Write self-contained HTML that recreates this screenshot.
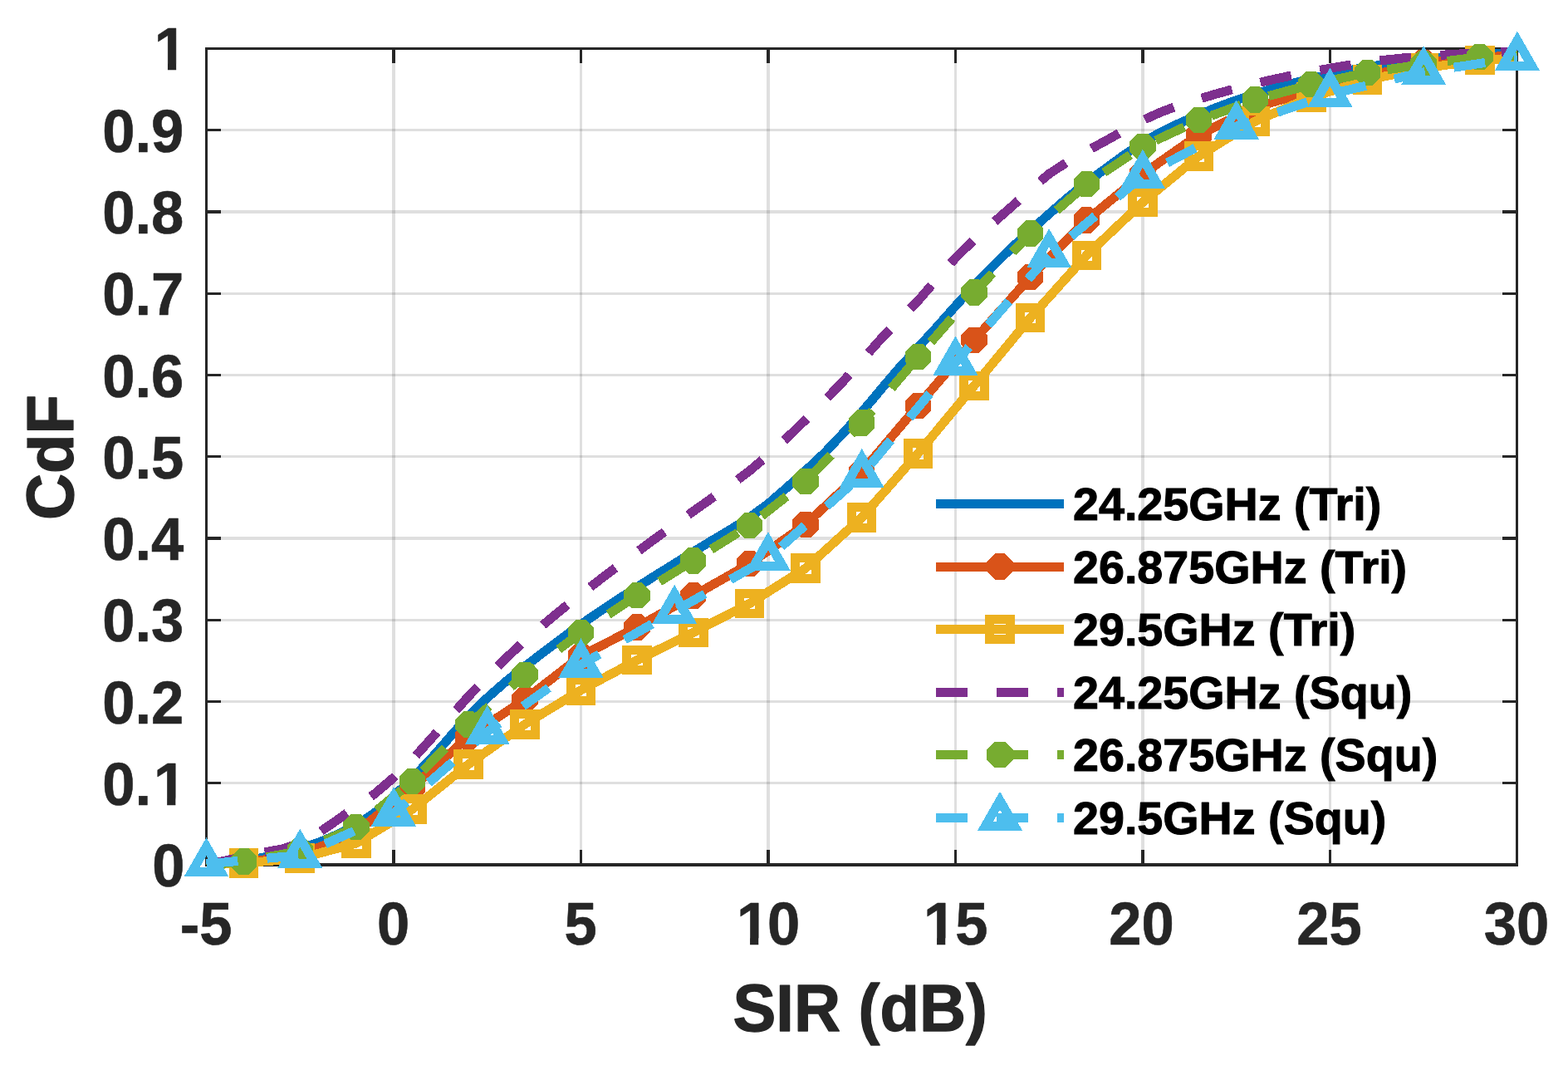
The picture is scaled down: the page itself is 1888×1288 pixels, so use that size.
<!DOCTYPE html>
<html lang="en"><head><meta charset="utf-8"><title>CdF vs SIR (dB)</title>
<style>html,body{margin:0;padding:0;background:#fff}body{width:1888px;height:1288px;overflow:hidden}svg text{white-space:pre}</style>
</head><body>
<svg width="1888" height="1288" viewBox="0 0 1888 1288" style="display:block">
<rect width="1888" height="1288" fill="#fff"/>
<g fill="#262626" fill-opacity="0.15" shape-rendering="crispEdges"><rect x="472" y="60" width="4" height="979"/><rect x="698" y="60" width="3" height="979"/><rect x="923" y="60" width="4" height="979"/><rect x="1149" y="60" width="3" height="979"/><rect x="1374" y="60" width="4" height="979"/><rect x="1600" y="60" width="3" height="979"/><rect x="250" y="941" width="1575" height="3"/><rect x="250" y="843" width="1575" height="3"/><rect x="250" y="745" width="1575" height="3"/><rect x="250" y="646" width="1575" height="4"/><rect x="250" y="548" width="1575" height="3"/><rect x="250" y="450" width="1575" height="3"/><rect x="250" y="352" width="1575" height="3"/><rect x="250" y="253" width="1575" height="4"/><rect x="250" y="155" width="1575" height="3"/></g>
<g fill="#262626" shape-rendering="crispEdges"><rect x="247" y="57" width="1581" height="3"/><rect x="247" y="1039" width="1581" height="4"/><rect x="247" y="57" width="3" height="986"/><rect x="1825" y="57" width="3" height="986"/><rect x="472" y="60" width="4" height="16"/><rect x="472" y="1023" width="4" height="16"/><rect x="698" y="60" width="3" height="16"/><rect x="698" y="1023" width="3" height="16"/><rect x="923" y="60" width="4" height="16"/><rect x="923" y="1023" width="4" height="16"/><rect x="1149" y="60" width="3" height="16"/><rect x="1149" y="1023" width="3" height="16"/><rect x="1374" y="60" width="4" height="16"/><rect x="1374" y="1023" width="4" height="16"/><rect x="1600" y="60" width="3" height="16"/><rect x="1600" y="1023" width="3" height="16"/><rect x="250" y="941" width="16" height="3"/><rect x="1809" y="941" width="16" height="3"/><rect x="250" y="843" width="16" height="3"/><rect x="1809" y="843" width="16" height="3"/><rect x="250" y="745" width="16" height="3"/><rect x="1809" y="745" width="16" height="3"/><rect x="250" y="646" width="16" height="4"/><rect x="1809" y="646" width="16" height="4"/><rect x="250" y="548" width="16" height="3"/><rect x="1809" y="548" width="16" height="3"/><rect x="250" y="450" width="16" height="3"/><rect x="1809" y="450" width="16" height="3"/><rect x="250" y="352" width="16" height="3"/><rect x="1809" y="352" width="16" height="3"/><rect x="250" y="253" width="16" height="4"/><rect x="1809" y="253" width="16" height="4"/><rect x="250" y="155" width="16" height="3"/><rect x="1809" y="155" width="16" height="3"/></g>
<g font-family="'Liberation Sans', Arial, Helvetica, sans-serif" font-weight="bold" fill="#262626" font-size="72" stroke="#262626" stroke-width="0.6" stroke-linejoin="round">
<text transform="translate(248.10,1137.00) scale(0.9800,1)" text-anchor="middle">-5</text>
<text transform="translate(473.69,1137.00) scale(0.9800,1)" text-anchor="middle">0</text>
<text transform="translate(699.07,1137.00) scale(0.9800,1)" text-anchor="middle">5</text>
<clipPath id="k1"><path d="M882.92,1067.00H929.92V1128.90H913.25V1140.00H903.06V1128.90H882.92ZM925.30,1067.00H1000.00V1157.00H925.30Z"/></clipPath><g clip-path="url(#k1)"><text transform="translate(0,1137.00) scale(0.980,1)"><tspan x="905.02">1</tspan><tspan x="942.96">0</tspan></text></g>
<clipPath id="k2"><path d="M1107.92,1067.00H1154.92V1128.90H1138.25V1140.00H1128.06V1128.90H1107.92ZM1150.80,1067.00H1230.00V1157.00H1150.80Z"/></clipPath><g clip-path="url(#k2)"><text transform="translate(0,1137.00) scale(0.980,1)"><tspan x="1134.61">1</tspan><tspan x="1173.83">5</tspan></text></g>
<text transform="translate(1374.43,1137.00) scale(0.9800,1)" text-anchor="middle">20</text>
<text transform="translate(1600.51,1137.00) scale(0.9800,1)" text-anchor="middle">25</text>
<text transform="translate(1826.00,1137.00) scale(0.9800,1)" text-anchor="middle">30</text>
<text transform="translate(222.60,1067.00) scale(0.9800,1)" text-anchor="end">0</text>
<clipPath id="k3"><path d="M181.02,898.75H228.02V960.65H211.35V971.75H201.16V960.65H181.02ZM100.00,898.75H186.00V988.75H100.00Z"/></clipPath><g clip-path="url(#k3)"><text transform="translate(0,968.75) scale(0.980,1)"><tspan x="125.73">0.</tspan><tspan x="188.80">1</tspan></text></g>
<text transform="translate(221.30,870.50) scale(0.9800,1)" text-anchor="end">0.2</text>
<text transform="translate(221.30,772.25) scale(0.9800,1)" text-anchor="end">0.3</text>
<text transform="translate(221.30,674.00) scale(0.9800,1)" text-anchor="end">0.4</text>
<text transform="translate(221.30,575.75) scale(0.9800,1)" text-anchor="end">0.5</text>
<text transform="translate(221.30,477.50) scale(0.9800,1)" text-anchor="end">0.6</text>
<text transform="translate(221.30,379.25) scale(0.9800,1)" text-anchor="end">0.7</text>
<text transform="translate(221.30,281.00) scale(0.9800,1)" text-anchor="end">0.8</text>
<text transform="translate(221.30,182.75) scale(0.9800,1)" text-anchor="end">0.9</text>
<clipPath id="k4"><path d="M181.82,14.10H228.82V76.00H212.15V87.10H201.96V76.00H181.82Z"/></clipPath><g clip-path="url(#k4)"><text transform="translate(0,84.10) scale(0.980,1)"><tspan x="189.61">1</tspan></text></g>
<clipPath id="kx"><path d="M860,1160H1230V1288H860Z M1086,1160V1185.4H1108V1160Z" clip-rule="evenodd"/></clipPath>
<clipPath id="ky"><path d="M0,440H110V660H0Z M0,522H32.5V544H0Z" clip-rule="evenodd"/></clipPath>
<g clip-path="url(#kx)"><text transform="translate(1035.70,1240.50) scale(0.9810,1)" text-anchor="middle" font-size="79.2" stroke-width="1.3">SIR (dB)</text></g>
<g clip-path="url(#ky)"><text transform="translate(88.00,550.50) rotate(-90) scale(0.9810,1)" text-anchor="middle" font-size="79.2" stroke-width="1.3">CdF</text></g>
</g>
<g shape-rendering="crispEdges">
<path d="M248.50 1041.00 L271.05 1038.94 L293.60 1036.09 L316.15 1032.34 L338.69 1027.44 L361.24 1021.56 L383.79 1014.07 L406.34 1004.60 L428.89 993.35 L451.44 978.18 L473.99 958.45 L496.53 936.78 L519.08 913.22 L541.63 887.25 L564.18 861.79 L586.73 840.00 L609.28 820.20 L631.83 802.32 L654.37 785.15 L676.92 768.07 L699.47 751.65 L722.02 736.13 L744.57 721.27 L767.12 706.73 L789.67 692.48 L812.21 678.47 L834.76 664.39 L857.31 650.60 L879.86 637.27 L902.41 623.06 L924.96 606.41 L947.51 586.88 L970.05 566.45 L992.60 545.41 L1015.15 521.59 L1037.70 496.26 L1060.25 469.27 L1082.80 442.85 L1105.35 418.39 L1127.89 393.83 L1150.44 368.39 L1172.99 343.88 L1195.54 320.57 L1218.09 298.22 L1240.64 277.70 L1263.19 257.51 L1285.73 237.83 L1308.28 219.79 L1330.83 203.16 L1353.38 186.66 L1375.93 171.39 L1398.48 158.75 L1421.03 147.94 L1443.57 138.09 L1466.12 128.94 L1488.67 120.60 L1511.22 113.13 L1533.77 106.46 L1556.32 100.40 L1578.87 94.85 L1601.41 89.67 L1623.96 84.89 L1646.51 80.66 L1669.06 77.21 L1691.61 74.31 L1714.16 71.70 L1736.71 68.90 L1759.25 66.33 L1781.80 64.94 L1804.35 64.43 L1826.90 64.39" fill="none" stroke="#0072BD" stroke-width="11" stroke-linejoin="round"/>
<path d="M248.50 1041.00 L271.05 1039.53 L293.60 1038.05 L316.15 1035.11 L338.69 1032.16 L361.24 1029.21 L383.79 1020.04 L406.34 1010.87 L428.89 1001.70 L451.44 983.69 L473.99 965.67 L496.53 947.66 L519.08 927.36 L541.63 907.05 L564.18 886.75 L586.73 871.88 L609.28 857.01 L631.83 842.14 L654.37 824.75 L676.92 807.36 L699.47 789.97 L722.02 778.25 L744.57 766.52 L767.12 754.80 L789.67 742.25 L812.21 729.71 L834.76 717.17 L857.31 704.36 L879.86 691.56 L902.41 678.75 L924.96 662.97 L947.51 647.18 L970.05 631.40 L992.60 610.24 L1015.15 589.08 L1037.70 567.93 L1060.25 541.43 L1082.80 514.94 L1105.35 488.44 L1127.89 462.05 L1150.44 435.65 L1172.99 409.25 L1195.54 383.97 L1218.09 358.69 L1240.64 333.40 L1263.19 310.61 L1285.73 287.82 L1308.28 265.02 L1330.83 246.52 L1353.38 228.01 L1375.93 209.51 L1398.48 193.72 L1421.03 177.94 L1443.57 162.15 L1466.12 151.18 L1488.67 140.21 L1511.22 129.24 L1533.77 122.69 L1556.32 116.14 L1578.87 109.59 L1601.41 103.70 L1623.96 97.80 L1646.51 91.91 L1669.06 86.34 L1691.61 80.77 L1714.16 75.20 L1736.71 73.14 L1759.25 71.08 L1781.80 69.01 L1804.35 67.93 L1826.90 66.85" fill="none" stroke="#D95319" stroke-width="11" stroke-linejoin="round"/>
<polygon points="309.30,1032.15 309.30,1043.95 299.50,1053.75 287.70,1053.75 277.90,1043.95 277.90,1032.15 287.70,1022.35 299.50,1022.35" fill="#D95319"/><polygon points="376.94,1023.31 376.94,1035.11 367.14,1044.91 355.34,1044.91 345.54,1035.11 345.54,1023.31 355.34,1013.51 367.14,1013.51" fill="#D95319"/><polygon points="444.59,995.80 444.59,1007.60 434.79,1017.40 422.99,1017.40 413.19,1007.60 413.19,995.80 422.99,986.00 434.79,986.00" fill="#D95319"/><polygon points="512.23,941.76 512.23,953.56 502.43,963.36 490.63,963.36 480.83,953.56 480.83,941.76 490.63,931.96 502.43,931.96" fill="#D95319"/><polygon points="579.88,880.85 579.88,892.65 570.08,902.45 558.28,902.45 548.48,892.65 548.48,880.85 558.28,871.05 570.08,871.05" fill="#D95319"/><polygon points="647.53,836.24 647.53,848.04 637.73,857.84 625.93,857.84 616.13,848.04 616.13,836.24 625.93,826.44 637.73,826.44" fill="#D95319"/><polygon points="715.17,784.07 715.17,795.87 705.37,805.67 693.57,805.67 683.77,795.87 683.77,784.07 693.57,774.27 705.37,774.27" fill="#D95319"/><polygon points="782.82,748.90 782.82,760.70 773.02,770.50 761.22,770.50 751.42,760.70 751.42,748.90 761.22,739.10 773.02,739.10" fill="#D95319"/><polygon points="850.46,711.27 850.46,723.07 840.66,732.87 828.86,732.87 819.06,723.07 819.06,711.27 828.86,701.47 840.66,701.47" fill="#D95319"/><polygon points="918.11,672.85 918.11,684.65 908.31,694.45 896.51,694.45 886.71,684.65 886.71,672.85 896.51,663.05 908.31,663.05" fill="#D95319"/><polygon points="985.75,625.50 985.75,637.30 975.95,647.10 964.15,647.10 954.35,637.30 954.35,625.50 964.15,615.70 975.95,615.70" fill="#D95319"/><polygon points="1053.40,562.03 1053.40,573.83 1043.60,583.63 1031.80,583.63 1022.00,573.83 1022.00,562.03 1031.80,552.23 1043.60,552.23" fill="#D95319"/><polygon points="1121.05,482.54 1121.05,494.34 1111.25,504.14 1099.45,504.14 1089.65,494.34 1089.65,482.54 1099.45,472.74 1111.25,472.74" fill="#D95319"/><polygon points="1188.69,403.35 1188.69,415.15 1178.89,424.95 1167.09,424.95 1157.29,415.15 1157.29,403.35 1167.09,393.55 1178.89,393.55" fill="#D95319"/><polygon points="1256.34,327.50 1256.34,339.30 1246.54,349.10 1234.74,349.10 1224.94,339.30 1224.94,327.50 1234.74,317.70 1246.54,317.70" fill="#D95319"/><polygon points="1323.98,259.12 1323.98,270.92 1314.18,280.72 1302.38,280.72 1292.58,270.92 1292.58,259.12 1302.38,249.32 1314.18,249.32" fill="#D95319"/><polygon points="1391.63,203.61 1391.63,215.41 1381.83,225.21 1370.03,225.21 1360.23,215.41 1360.23,203.61 1370.03,193.81 1381.83,193.81" fill="#D95319"/><polygon points="1459.27,156.25 1459.27,168.05 1449.47,177.85 1437.67,177.85 1427.87,168.05 1427.87,156.25 1437.67,146.45 1449.47,146.45" fill="#D95319"/><polygon points="1526.92,123.34 1526.92,135.14 1517.12,144.94 1505.32,144.94 1495.52,135.14 1495.52,123.34 1505.32,113.54 1517.12,113.54" fill="#D95319"/><polygon points="1594.57,103.69 1594.57,115.49 1584.77,125.29 1572.97,125.29 1563.17,115.49 1563.17,103.69 1572.97,93.89 1584.77,93.89" fill="#D95319"/><polygon points="1662.21,86.01 1662.21,97.81 1652.41,107.61 1640.61,107.61 1630.81,97.81 1630.81,86.01 1640.61,76.21 1652.41,76.21" fill="#D95319"/><polygon points="1729.86,69.30 1729.86,81.10 1720.06,90.90 1708.26,90.90 1698.46,81.10 1698.46,69.30 1708.26,59.50 1720.06,59.50" fill="#D95319"/><polygon points="1797.50,63.11 1797.50,74.91 1787.70,84.71 1775.90,84.71 1766.10,74.91 1766.10,63.11 1775.90,53.31 1787.70,53.31" fill="#D95319"/>
<path d="M248.50 1041.00 L271.05 1040.02 L293.60 1039.04 L316.15 1037.07 L338.69 1035.11 L361.24 1033.14 L383.79 1027.15 L406.34 1021.15 L428.89 1015.16 L451.44 1001.50 L473.99 987.85 L496.53 974.19 L519.08 956.08 L541.63 937.97 L564.18 919.86 L586.73 903.88 L609.28 887.89 L631.83 871.91 L654.37 858.19 L676.92 844.47 L699.47 830.75 L722.02 818.73 L744.57 806.71 L767.12 794.69 L789.67 783.55 L812.21 772.42 L834.76 761.28 L857.31 749.72 L879.86 738.16 L902.41 726.60 L924.96 712.39 L947.51 698.17 L970.05 683.96 L992.60 663.59 L1015.15 643.22 L1037.70 622.85 L1060.25 597.17 L1082.80 571.50 L1105.35 545.82 L1127.89 518.64 L1150.44 491.46 L1172.99 464.27 L1195.54 437.06 L1218.09 409.84 L1240.64 382.63 L1263.19 357.54 L1285.73 332.45 L1308.28 307.37 L1330.83 286.05 L1353.38 264.73 L1375.93 243.41 L1398.48 224.87 L1421.03 206.33 L1443.57 187.80 L1466.12 173.85 L1488.67 159.89 L1511.22 145.94 L1533.77 136.28 L1556.32 126.62 L1578.87 116.96 L1601.41 110.05 L1623.96 103.14 L1646.51 96.23 L1669.06 91.51 L1691.61 86.80 L1714.16 82.08 L1736.71 78.90 L1759.25 75.73 L1781.80 72.55 L1804.35 71.17 L1826.90 69.80" fill="none" stroke="#EDB120" stroke-width="11" stroke-linejoin="round"/>
<rect x="281.35" y="1026.79" width="24.5" height="24.5" fill="none" stroke="#EDB120" stroke-width="11"/><rect x="348.99" y="1020.89" width="24.5" height="24.5" fill="none" stroke="#EDB120" stroke-width="11"/><rect x="416.64" y="1002.91" width="24.5" height="24.5" fill="none" stroke="#EDB120" stroke-width="11"/><rect x="484.28" y="961.94" width="24.5" height="24.5" fill="none" stroke="#EDB120" stroke-width="11"/><rect x="551.93" y="907.61" width="24.5" height="24.5" fill="none" stroke="#EDB120" stroke-width="11"/><rect x="619.58" y="859.66" width="24.5" height="24.5" fill="none" stroke="#EDB120" stroke-width="11"/><rect x="687.22" y="818.50" width="24.5" height="24.5" fill="none" stroke="#EDB120" stroke-width="11"/><rect x="754.87" y="782.44" width="24.5" height="24.5" fill="none" stroke="#EDB120" stroke-width="11"/><rect x="822.51" y="749.03" width="24.5" height="24.5" fill="none" stroke="#EDB120" stroke-width="11"/><rect x="890.16" y="714.35" width="24.5" height="24.5" fill="none" stroke="#EDB120" stroke-width="11"/><rect x="957.80" y="671.71" width="24.5" height="24.5" fill="none" stroke="#EDB120" stroke-width="11"/><rect x="1025.45" y="610.60" width="24.5" height="24.5" fill="none" stroke="#EDB120" stroke-width="11"/><rect x="1093.10" y="533.57" width="24.5" height="24.5" fill="none" stroke="#EDB120" stroke-width="11"/><rect x="1160.74" y="452.02" width="24.5" height="24.5" fill="none" stroke="#EDB120" stroke-width="11"/><rect x="1228.39" y="370.38" width="24.5" height="24.5" fill="none" stroke="#EDB120" stroke-width="11"/><rect x="1296.03" y="295.12" width="24.5" height="24.5" fill="none" stroke="#EDB120" stroke-width="11"/><rect x="1363.68" y="231.16" width="24.5" height="24.5" fill="none" stroke="#EDB120" stroke-width="11"/><rect x="1431.32" y="175.55" width="24.5" height="24.5" fill="none" stroke="#EDB120" stroke-width="11"/><rect x="1498.97" y="133.69" width="24.5" height="24.5" fill="none" stroke="#EDB120" stroke-width="11"/><rect x="1566.62" y="104.71" width="24.5" height="24.5" fill="none" stroke="#EDB120" stroke-width="11"/><rect x="1634.26" y="83.98" width="24.5" height="24.5" fill="none" stroke="#EDB120" stroke-width="11"/><rect x="1701.91" y="69.83" width="24.5" height="24.5" fill="none" stroke="#EDB120" stroke-width="11"/><rect x="1769.55" y="60.30" width="24.5" height="24.5" fill="none" stroke="#EDB120" stroke-width="11"/>
<path d="M248.50 1040.51 L271.05 1036.09 L293.60 1031.13 L316.15 1026.20 L338.69 1022.34 L361.24 1014.89 L383.79 1002.45 L406.34 986.89 L428.89 970.98 L451.44 955.30 L473.99 936.06 L496.53 914.30 L519.08 889.28 L541.63 863.31 L564.18 838.20 L586.73 814.53 L609.28 792.15 L631.83 771.36 L654.37 751.82 L676.92 733.20 L699.47 715.32 L722.02 698.00 L744.57 681.08 L767.12 664.40 L789.67 647.80 L812.21 631.54 L834.76 615.48 L857.31 599.50 L879.86 583.82 L902.41 566.85 L924.96 547.75 L947.51 527.13 L970.05 505.29 L992.60 482.54 L1015.15 459.17 L1037.70 433.78 L1060.25 408.51 L1082.80 385.48 L1105.35 362.11 L1127.89 336.18 L1150.44 310.55 L1172.99 288.46 L1195.54 268.53 L1218.09 248.77 L1240.64 228.13 L1263.19 209.31 L1285.73 194.53 L1308.28 181.93 L1330.83 169.81 L1353.38 157.11 L1375.93 144.88 L1398.48 134.65 L1421.03 126.38 L1443.57 119.17 L1466.12 112.57 L1488.67 106.38 L1511.22 100.67 L1533.77 95.45 L1556.32 90.66 L1578.87 86.25 L1601.41 82.22 L1623.96 78.52 L1646.51 75.03 L1669.06 72.02 L1691.61 69.70 L1714.16 67.80 L1736.71 66.20 L1759.25 64.88 L1781.80 63.71 L1804.35 62.71 L1826.90 61.94" fill="none" stroke="#7E2F8E" stroke-width="11" stroke-linejoin="round" stroke-dasharray="38 35.2" stroke-dashoffset="1.5"/>
<path d="M248.50 1041.00 L271.05 1039.04 L293.60 1037.07 L316.15 1032.81 L338.69 1028.56 L361.24 1024.30 L383.79 1014.70 L406.34 1005.11 L428.89 995.51 L451.44 977.17 L473.99 958.83 L496.53 940.49 L519.08 917.70 L541.63 894.90 L564.18 872.11 L586.73 852.16 L609.28 832.22 L631.83 812.27 L654.37 795.34 L676.92 778.41 L699.47 761.48 L722.02 746.58 L744.57 731.68 L767.12 716.77 L789.67 702.79 L812.21 688.81 L834.76 674.82 L857.31 660.74 L879.86 646.66 L902.41 632.57 L924.96 614.89 L947.51 597.20 L970.05 579.52 L992.60 556.07 L1015.15 532.62 L1037.70 509.17 L1060.25 482.68 L1082.80 456.18 L1105.35 429.69 L1127.89 403.85 L1150.44 378.01 L1172.99 352.17 L1195.54 328.46 L1218.09 304.75 L1240.64 281.04 L1263.19 261.29 L1285.73 241.54 L1308.28 221.79 L1330.83 206.66 L1353.38 191.53 L1375.93 176.40 L1398.48 165.85 L1421.03 155.31 L1443.57 144.76 L1466.12 136.51 L1488.67 128.26 L1511.22 120.00 L1533.77 113.91 L1556.32 107.82 L1578.87 101.73 L1601.41 96.98 L1623.96 92.23 L1646.51 87.48 L1669.06 84.05 L1691.61 80.61 L1714.16 77.17 L1736.71 74.29 L1759.25 71.40 L1781.80 68.52 L1804.35 67.69 L1826.90 66.85" fill="none" stroke="#77AC30" stroke-width="11" stroke-linejoin="round" stroke-dasharray="38 35.2"/>
<polygon points="309.30,1031.17 309.30,1042.97 299.50,1052.77 287.70,1052.77 277.90,1042.97 277.90,1031.17 287.70,1021.37 299.50,1021.37" fill="#77AC30"/><polygon points="376.94,1018.40 376.94,1030.20 367.14,1040.00 355.34,1040.00 345.54,1030.20 345.54,1018.40 355.34,1008.60 367.14,1008.60" fill="#77AC30"/><polygon points="444.59,989.61 444.59,1001.41 434.79,1011.21 422.99,1011.21 413.19,1001.41 413.19,989.61 422.99,979.81 434.79,979.81" fill="#77AC30"/><polygon points="512.23,934.59 512.23,946.39 502.43,956.19 490.63,956.19 480.83,946.39 480.83,934.59 490.63,924.79 502.43,924.79" fill="#77AC30"/><polygon points="579.88,866.21 579.88,878.01 570.08,887.81 558.28,887.81 548.48,878.01 548.48,866.21 558.28,856.41 570.08,856.41" fill="#77AC30"/><polygon points="647.53,806.37 647.53,818.17 637.73,827.97 625.93,827.97 616.13,818.17 616.13,806.37 625.93,796.57 637.73,796.57" fill="#77AC30"/><polygon points="715.17,755.58 715.17,767.38 705.37,777.18 693.57,777.18 683.77,767.38 683.77,755.58 693.57,745.78 705.37,745.78" fill="#77AC30"/><polygon points="782.82,710.88 782.82,722.67 773.02,732.48 761.22,732.48 751.42,722.67 751.42,710.88 761.22,701.07 773.02,701.07" fill="#77AC30"/><polygon points="850.46,668.92 850.46,680.72 840.66,690.52 828.86,690.52 819.06,680.72 819.06,668.92 828.86,659.12 840.66,659.12" fill="#77AC30"/><polygon points="918.11,626.67 918.11,638.47 908.31,648.27 896.51,648.27 886.71,638.47 886.71,626.67 896.51,616.87 908.31,616.87" fill="#77AC30"/><polygon points="985.75,573.62 985.75,585.42 975.95,595.22 964.15,595.22 954.35,585.42 954.35,573.62 964.15,563.82 975.95,563.82" fill="#77AC30"/><polygon points="1053.40,503.27 1053.40,515.07 1043.60,524.87 1031.80,524.87 1022.00,515.07 1022.00,503.27 1031.80,493.47 1043.60,493.47" fill="#77AC30"/><polygon points="1121.05,423.79 1121.05,435.59 1111.25,445.39 1099.45,445.39 1089.65,435.59 1089.65,423.79 1099.45,413.99 1111.25,413.99" fill="#77AC30"/><polygon points="1188.69,346.27 1188.69,358.07 1178.89,367.87 1167.09,367.87 1157.29,358.07 1157.29,346.27 1167.09,336.47 1178.89,336.47" fill="#77AC30"/><polygon points="1256.34,275.14 1256.34,286.94 1246.54,296.74 1234.74,296.74 1224.94,286.94 1224.94,275.14 1234.74,265.34 1246.54,265.34" fill="#77AC30"/><polygon points="1323.98,215.89 1323.98,227.69 1314.18,237.49 1302.38,237.49 1292.58,227.69 1292.58,215.89 1302.38,206.09 1314.18,206.09" fill="#77AC30"/><polygon points="1391.63,170.50 1391.63,182.30 1381.83,192.10 1370.03,192.10 1360.23,182.30 1360.23,170.50 1370.03,160.70 1381.83,160.70" fill="#77AC30"/><polygon points="1459.27,138.86 1459.27,150.66 1449.47,160.46 1437.67,160.46 1427.87,150.66 1427.87,138.86 1437.67,129.06 1449.47,129.06" fill="#77AC30"/><polygon points="1526.92,114.10 1526.92,125.90 1517.12,135.70 1505.32,135.70 1495.52,125.90 1495.52,114.10 1505.32,104.30 1517.12,104.30" fill="#77AC30"/><polygon points="1594.57,95.83 1594.57,107.63 1584.77,117.43 1572.97,117.43 1563.17,107.63 1563.17,95.83 1572.97,86.03 1584.77,86.03" fill="#77AC30"/><polygon points="1662.21,81.58 1662.21,93.38 1652.41,103.18 1640.61,103.18 1630.81,93.38 1630.81,81.58 1640.61,71.78 1652.41,71.78" fill="#77AC30"/><polygon points="1729.86,71.27 1729.86,83.07 1720.06,92.87 1708.26,92.87 1698.46,83.07 1698.46,71.27 1708.26,61.47 1720.06,61.47" fill="#77AC30"/><polygon points="1797.50,62.62 1797.50,74.42 1787.70,84.22 1775.90,84.22 1766.10,74.42 1766.10,62.62 1775.90,52.82 1787.70,52.82" fill="#77AC30"/>
<path d="M248.50 1040.02 L271.05 1037.91 L293.60 1035.81 L316.15 1033.71 L338.69 1031.61 L361.24 1029.50 L383.79 1019.42 L406.34 1009.34 L428.89 999.26 L451.44 989.18 L473.99 979.10 L496.53 959.45 L519.08 939.80 L541.63 920.15 L564.18 900.50 L586.73 880.85 L609.28 864.74 L631.83 848.63 L654.37 832.51 L676.92 816.40 L699.47 800.29 L722.02 787.36 L744.57 774.43 L767.12 761.50 L789.67 748.57 L812.21 735.64 L834.76 722.91 L857.31 710.17 L879.86 697.44 L902.41 684.71 L924.96 671.97 L947.51 651.95 L970.05 631.93 L992.60 611.90 L1015.15 591.88 L1037.70 571.86 L1060.25 544.78 L1082.80 517.70 L1105.35 490.62 L1127.89 463.55 L1150.44 436.47 L1172.99 410.59 L1195.54 384.71 L1218.09 358.83 L1240.64 332.95 L1263.19 307.07 L1285.73 287.95 L1308.28 268.83 L1330.83 249.71 L1353.38 230.59 L1375.93 211.48 L1398.48 199.63 L1421.03 187.78 L1443.57 175.93 L1466.12 164.08 L1488.67 152.23 L1511.22 144.47 L1533.77 136.71 L1556.32 128.95 L1578.87 121.18 L1601.41 113.42 L1623.96 108.10 L1646.51 102.77 L1669.06 97.45 L1691.61 92.12 L1714.16 86.80 L1736.71 83.34 L1759.25 79.88 L1781.80 76.42 L1804.35 72.96 L1826.90 69.50" fill="none" stroke="#4DBEEE" stroke-width="11" stroke-linejoin="round" stroke-dasharray="38 35.2"/>
<polygon points="248.50,1019.22 266.10,1049.92 230.90,1049.92" fill="none" stroke="#4DBEEE" stroke-width="11" stroke-linejoin="miter"/><polygon points="361.24,1008.70 378.84,1039.40 343.64,1039.40" fill="none" stroke="#4DBEEE" stroke-width="11" stroke-linejoin="miter"/><polygon points="473.99,958.30 491.59,989.00 456.39,989.00" fill="none" stroke="#4DBEEE" stroke-width="11" stroke-linejoin="miter"/><polygon points="586.73,860.05 604.33,890.75 569.13,890.75" fill="none" stroke="#4DBEEE" stroke-width="11" stroke-linejoin="miter"/><polygon points="699.47,779.49 717.07,810.19 681.87,810.19" fill="none" stroke="#4DBEEE" stroke-width="11" stroke-linejoin="miter"/><polygon points="812.21,714.84 829.81,745.54 794.61,745.54" fill="none" stroke="#4DBEEE" stroke-width="11" stroke-linejoin="miter"/><polygon points="924.96,651.17 942.56,681.87 907.36,681.87" fill="none" stroke="#4DBEEE" stroke-width="11" stroke-linejoin="miter"/><polygon points="1037.70,551.06 1055.30,581.76 1020.10,581.76" fill="none" stroke="#4DBEEE" stroke-width="11" stroke-linejoin="miter"/><polygon points="1150.44,415.67 1168.04,446.37 1132.84,446.37" fill="none" stroke="#4DBEEE" stroke-width="11" stroke-linejoin="miter"/><polygon points="1263.19,286.27 1280.79,316.97 1245.59,316.97" fill="none" stroke="#4DBEEE" stroke-width="11" stroke-linejoin="miter"/><polygon points="1375.93,190.68 1393.53,221.38 1358.33,221.38" fill="none" stroke="#4DBEEE" stroke-width="11" stroke-linejoin="miter"/><polygon points="1488.67,131.43 1506.27,162.13 1471.07,162.13" fill="none" stroke="#4DBEEE" stroke-width="11" stroke-linejoin="miter"/><polygon points="1601.41,92.62 1619.01,123.32 1583.81,123.32" fill="none" stroke="#4DBEEE" stroke-width="11" stroke-linejoin="miter"/><polygon points="1714.16,66.00 1731.76,96.70 1696.56,96.70" fill="none" stroke="#4DBEEE" stroke-width="11" stroke-linejoin="miter"/><polygon points="1826.90,48.70 1844.50,79.40 1809.30,79.40" fill="none" stroke="#4DBEEE" stroke-width="11" stroke-linejoin="miter"/>
<line x1="1127" y1="606.5" x2="1281" y2="606.5" stroke="#0072BD" stroke-width="11"/>
<line x1="1127" y1="682.0" x2="1281" y2="682.0" stroke="#D95319" stroke-width="11"/>
<polygon points="1219.70,676.10 1219.70,687.90 1209.90,697.70 1198.10,697.70 1188.30,687.90 1188.30,676.10 1198.10,666.30 1209.90,666.30" fill="#D95319"/>
<line x1="1127" y1="757.5" x2="1281" y2="757.5" stroke="#EDB120" stroke-width="11"/>
<rect x="1191.75" y="745.25" width="24.5" height="24.5" fill="none" stroke="#EDB120" stroke-width="11"/>
<line x1="1127" y1="833.5" x2="1281" y2="833.5" stroke="#7E2F8E" stroke-width="11" stroke-dasharray="38 35.2"/>
<line x1="1127" y1="908.5" x2="1281" y2="908.5" stroke="#77AC30" stroke-width="11" stroke-dasharray="38 35.2"/>
<polygon points="1219.70,902.60 1219.70,914.40 1209.90,924.20 1198.10,924.20 1188.30,914.40 1188.30,902.60 1198.10,892.80 1209.90,892.80" fill="#77AC30"/>
<line x1="1127" y1="984.5" x2="1281" y2="984.5" stroke="#4DBEEE" stroke-width="11" stroke-dasharray="38 35.2"/>
<polygon points="1204.00,963.70 1221.60,994.40 1186.40,994.40" fill="none" stroke="#4DBEEE" stroke-width="11" stroke-linejoin="miter"/>
</g>
<g font-family="'Liberation Sans', Arial, Helvetica, sans-serif" font-weight="bold" fill="#000" font-size="56" stroke="#000" stroke-width="1.1" stroke-linejoin="round">
<text transform="translate(1292.00,626.30) scale(0.9940,1)">24.25GHz (Tri)</text>
<text transform="translate(1292.00,701.80) scale(0.9940,1)">26.875GHz (Tri)</text>
<text transform="translate(1292.00,777.30) scale(0.9940,1)">29.5GHz (Tri)</text>
<text transform="translate(1292.00,853.30) scale(0.9940,1)">24.25GHz (Squ)</text>
<text transform="translate(1292.00,928.30) scale(0.9940,1)">26.875GHz (Squ)</text>
<text transform="translate(1292.00,1004.30) scale(0.9940,1)">29.5GHz (Squ)</text>
</g>
</svg>
</body></html>
